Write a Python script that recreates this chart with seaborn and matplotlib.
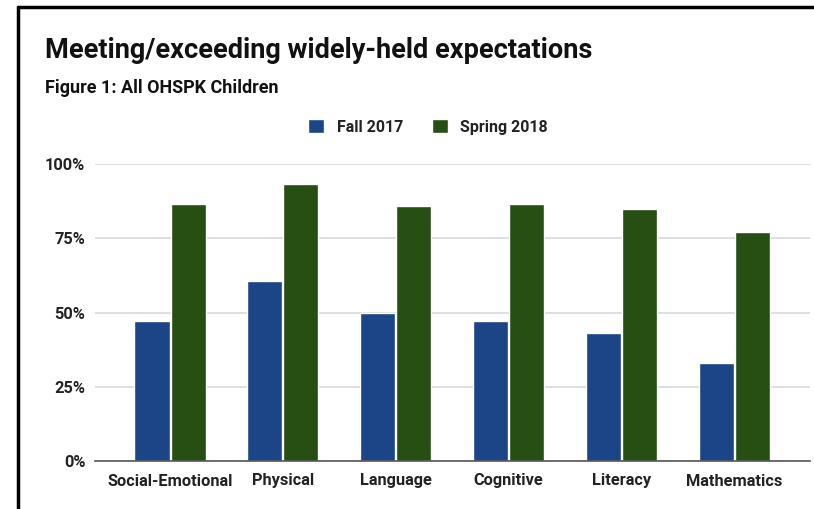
import pandas as pd
import numpy as np
import matplotlib
matplotlib.use("Agg")
import matplotlib.pyplot as plt
import seaborn as sns
from matplotlib.lines import Line2D
from matplotlib.patches import Patch

# data
domains = ["Social-Emotional", "Physical", "Language", "Cognitive", "Literacy", "Mathematics"]
fall_2017 = [47.1, 60.7, 49.8, 47.1, 43.0, 33.0]
spring_2018 = [86.5, 93.2, 85.9, 86.5, 84.8, 77.1]
seasons = ["Fall 2017", "Spring 2018"]
colors = ["#1c4587", "#274e13"]

df = pd.DataFrame({
    "domain": domains * 2,
    "season": [seasons[0]] * len(domains) + [seasons[1]] * len(domains),
    "pct": fall_2017 + spring_2018,
})

sns.set_style("white")
plt.rcParams["font.family"] = ["Roboto", "DejaVu Sans"]

fig = plt.figure(figsize=(8.14, 5.09), dpi=100)
ax = fig.add_axes([95/814, 1-461/509, (810-95)/814, (461-164)/509])

sns.barplot(data=df, x="domain", y="pct", hue="season", order=domains, hue_order=seasons,
            palette=colors, width=0.64, gap=0.03, ax=ax, legend=False, saturation=1)

ax.set_ylim(0, 100)
ax.set_xlim(-0.665, 5.67)
ax.set_yticks([0, 25, 50, 75, 100])
ax.set_yticklabels(["0%", "25%", "50%", "75%", "100%"])
ax.yaxis.grid(True, color="#d9d9d9", linewidth=1.2)
ax.set_axisbelow(True)
for s in ["top", "right", "left"]:
    ax.spines[s].set_visible(False)
ax.spines["bottom"].set_color("#555555")
ax.spines["bottom"].set_linewidth(1.2)
ax.tick_params(axis="both", length=0, labelsize=11.8, colors="#222222")
ax.tick_params(axis="x", pad=9)
ax.tick_params(axis="y", pad=7)
for lab in ax.get_xticklabels() + ax.get_yticklabels():
    lab.set_fontweight("bold")
ax.set_xlabel("")
ax.set_ylabel("")

fig.text(45/814, 1-51/509, "Meeting/exceeding widely-held expectations", fontsize=19.5,
         fontweight="bold", color="#111111", va="center", ha="left")
fig.text(45/814, 1-88/509, "Figure 1: All OHSPK Children", fontsize=13,
         fontweight="bold", color="#111111", va="center", ha="left")

handles = [Patch(facecolor=c, label=s) for c, s in zip(colors, seasons)]
leg = fig.legend(handles=handles, loc="center", bbox_to_anchor=(428/814, 1-127/509), ncol=2,
                 frameon=False, handlelength=1.0, handleheight=1.0, columnspacing=1.8,
                 handletextpad=0.8, prop={"weight": "bold", "size": 11.5})
for t in leg.get_texts():
    t.set_color("#222222")

# frame lines at left and top of the picture
fig.add_artist(Line2D([18/814, 18/814], [0, 1-7/509], color="black", linewidth=2.5))
fig.add_artist(Line2D([18/814, 1], [1-7/509, 1-7/509], color="black", linewidth=2.5))

fig.savefig("out.png", dpi=100)
